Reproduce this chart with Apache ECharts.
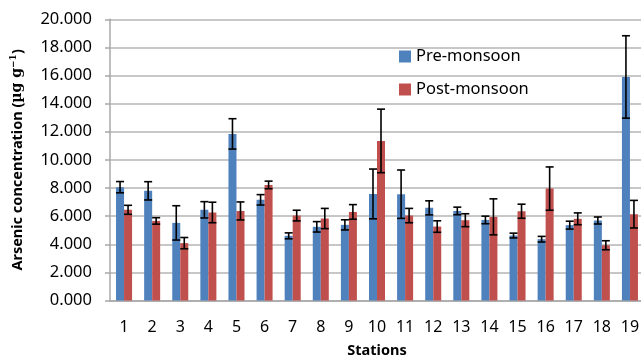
<!DOCTYPE html>
<html>
<head>
<meta charset="utf-8">
<script src="https://cdn.jsdelivr.net/npm/echarts@6/dist/echarts.min.js"></script>
<style>html,body{margin:0;padding:0;background:#fff;}#c{width:641px;height:358px;}</style>
</head>
<body>
<div id="c"></div>
<script>
var categories = ['1','2','3','4','5','6','7','8','9','10','11','12','13','14','15','16','17','18','19'];
var preMonsoon  = [8.06, 7.80, 5.52, 6.45, 11.85, 7.16, 4.60, 5.24, 5.38, 7.58, 7.56, 6.59, 6.37, 5.73, 4.62, 4.36, 5.36, 5.69, 15.90];
var postMonsoon = [6.45, 5.66, 4.08, 6.26, 6.37, 8.22, 6.04, 5.83, 6.30, 11.35, 6.04, 5.26, 5.71, 5.95, 6.35, 7.96, 5.81, 3.93, 6.14];
var preErr  = [0.40, 0.65, 1.22, 0.58, 1.08, 0.37, 0.21, 0.37, 0.36, 1.77, 1.72, 0.50, 0.27, 0.27, 0.17, 0.20, 0.28, 0.25, 2.93];
var postErr = [0.32, 0.23, 0.40, 0.73, 0.64, 0.27, 0.38, 0.72, 0.52, 2.26, 0.51, 0.41, 0.46, 1.28, 0.50, 1.54, 0.42, 0.32, 0.98];

var GAP = 0.43;
function errData(vals, errs) {
  return vals.map(function (v, i) { return [i, v, v - errs[i], v + errs[i]]; });
}
function makeErr(sign) {
  return function (params, api) {
    var idx = api.value(0);
    var c = api.coord([idx, api.value(1)]);
    var band = api.size([1, 0])[0];
    var w = band * (1 - GAP) / 2;
    var x = c[0] + sign * w / 2;
    var lo = api.coord([idx, api.value(2)])[1];
    var hi = api.coord([idx, api.value(3)])[1];
    var cap = 4;
    var st = { stroke: '#000', lineWidth: 1.6 };
    return {
      type: 'group',
      children: [
        { type: 'line', shape: { x1: x, y1: lo, x2: x, y2: hi }, style: st },
        { type: 'line', shape: { x1: x - cap, y1: lo, x2: x + cap, y2: lo }, style: st },
        { type: 'line', shape: { x1: x - cap, y1: hi, x2: x + cap, y2: hi }, style: st }
      ]
    };
  };
}

var chart = echarts.init(document.getElementById('c'), null, { renderer: 'canvas' });
chart.setOption({
  animation: false,
  backgroundColor: '#fff',
  textStyle: { fontFamily: 'Noto Sans' },
  grid: { left: 110, top: 19.3, width: 534, height: 281.2, containLabel: false, outerBoundsMode: 'none' },
  legend: {
    orient: 'vertical', left: 394, top: 43, itemWidth: 12, itemHeight: 12, itemGap: 16,
    icon: 'rect',
    data: ['Pre-monsoon', 'Post-monsoon'],
    textStyle: { fontFamily: 'Noto Sans', fontSize: 16.5, color: '#000' }
  },
  xAxis: {
    type: 'category', data: categories,
    name: 'Stations', nameLocation: 'middle', nameGap: 43,
    nameTextStyle: { fontFamily: 'Noto Sans', fontWeight: 'bold', fontSize: 14.5, color: '#000' },
    axisLine: { lineStyle: { color: '#a8a8a8', width: 1.5 } },
    axisTick: { show: false },
    axisLabel: { margin: 19, color: '#000', fontFamily: 'Noto Sans', fontSize: 16 }
  },
  yAxis: {
    type: 'value', min: 0, max: 20, interval: 2,
    name: '{a|Arsenic concentration (}{b|µg g}{s|−1}{a|)}',
    nameLocation: 'middle', nameGap: 84, nameRotate: 90,
    nameTextStyle: {
      rich: {
        a: { fontFamily: 'Noto Sans', fontWeight: 'bold', fontSize: 14.5, color: '#000' },
        b: { fontFamily: 'DejaVu Serif', fontWeight: 'bold', fontSize: 14, color: '#000' },
        s: { fontFamily: 'DejaVu Serif', fontWeight: 'bold', fontSize: 9, color: '#000', verticalAlign: 'top', padding: [0, 0, 8, 0] }
      }
    },
    axisLine: { show: true, lineStyle: { color: '#a8a8a8', width: 1.5 } },
    axisTick: { show: true, length: 5, lineStyle: { color: '#a8a8a8', width: 1.5 } },
    splitLine: { lineStyle: { color: '#b4b4b4', width: 1.5 } },
    axisLabel: {
      margin: 18, color: '#000', fontFamily: 'Noto Sans', fontSize: 16.5,
      formatter: function (v) { return v.toFixed(3); }
    }
  },
  series: [
    { name: 'Pre-monsoon', type: 'bar', data: preMonsoon, barGap: '0%', barCategoryGap: (GAP * 100) + '%',
      itemStyle: { color: '#4F81BD' } },
    { name: 'Post-monsoon', type: 'bar', data: postMonsoon, barGap: '0%', barCategoryGap: (GAP * 100) + '%',
      itemStyle: { color: '#C0504D' } },
    { type: 'custom', name: 'preErr', renderItem: makeErr(-1), data: errData(preMonsoon, preErr), z: 10,
      encode: { x: 0, y: [1, 2, 3] } },
    { type: 'custom', name: 'postErr', renderItem: makeErr(1), data: errData(postMonsoon, postErr), z: 10,
      encode: { x: 0, y: [1, 2, 3] } }
  ]
});
</script>
</body>
</html>
